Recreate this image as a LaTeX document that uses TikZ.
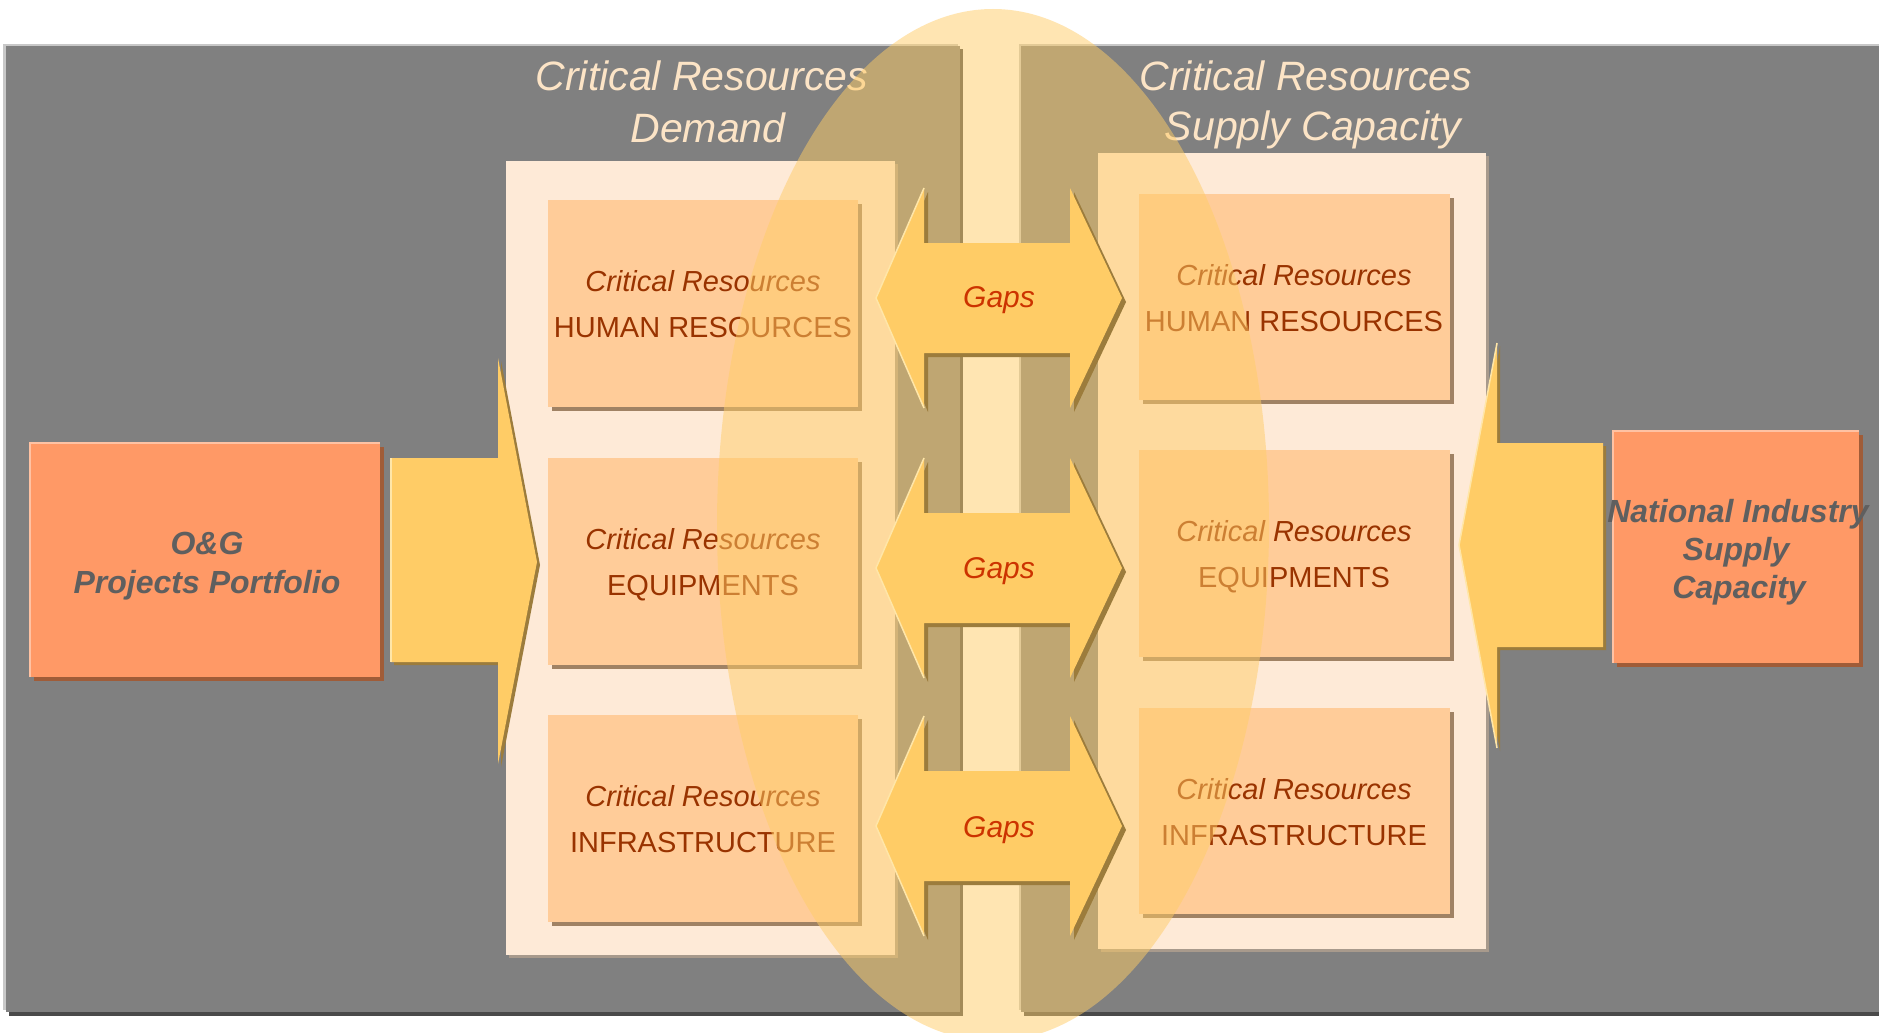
\documentclass[tikz,border=0pt]{standalone}
\usepackage{fontspec}
\setmainfont{Liberation Sans}
\definecolor{panelgray}{HTML}{808080}
\definecolor{panellight}{HTML}{C8C8C8}
\definecolor{paneldark}{HTML}{4A4A4A}
\definecolor{titlecol}{HTML}{FCE4C6}
\definecolor{contfill}{HTML}{FEEAD7}
\definecolor{contshadow}{HTML}{A89A8C}
\definecolor{boxfill}{HTML}{FFCC99}
\definecolor{boxshadow}{HTML}{A08264}
\definecolor{boxtext}{HTML}{993300}
\definecolor{arrowfill}{HTML}{FFCC66}
\definecolor{arrowshadow}{HTML}{9C7C3C}
\definecolor{arrowlight}{HTML}{FFE6A8}
\definecolor{orangefill}{HTML}{FF9966}
\definecolor{orangeshadow}{HTML}{A05C38}
\definecolor{darktext}{HTML}{5F5F5F}
\definecolor{gapstext}{HTML}{CC3300}
\definecolor{ellcol}{HTML}{FFCC66}
\newcommand{\GapPath}[2]{\fill[#2] (876,#1) -- (924,{#1-110}) -- (924,{#1-55}) -- (1070,{#1-55}) -- (1070,{#1-110}) -- (1122,#1) -- (1070,{#1+110}) -- (1070,{#1+55}) -- (924,{#1+55}) -- (924,{#1+110}) -- cycle;}
\newcommand{\GapLight}[1]{\draw[arrowlight, line width=1.5pt] (924,{#1+110}) -- (876,#1) -- (924,{#1-110});}
\begin{document}
\begin{tikzpicture}[x=1pt,y=-1pt,
  every node/.style={inner sep=0pt, outer sep=0pt},
  titletext/.style={anchor=base, text=titlecol, font=\fontsize{41}{48}\selectfont\itshape},
  crtext/.style={anchor=base, text=boxtext, font=\fontsize{29}{34}\selectfont\itshape},
  captext/.style={anchor=base, text=boxtext, font=\fontsize{29}{34}\selectfont},
  boldtext/.style={anchor=base, text=darktext, font=\fontsize{32}{38}\selectfont\bfseries\itshape},
  gapslabel/.style={anchor=base, text=gapstext, font=\fontsize{30}{36}\selectfont\itshape},
  container/.style={fill=contfill},
  innerbox/.style={fill=boxfill},
  orangebox/.style={fill=orangefill}]
\useasboundingbox (0,0) rectangle (1879,1033);
\clip (0,0) rectangle (1879,1033);
\fill[white] (0,0) rectangle (1879,1033);
% grey panels with bevel
\fill[panellight] (3,44) rectangle (958,1010);
\fill[panellight] (1019,44) rectangle (1879,1010);
\fill[paneldark] (9,49) rectangle (963,1016);
\fill[paneldark] (1024,49) rectangle (1883,1016);
\fill[panelgray] (6,46) rectangle (960,1012);
\fill[panelgray] (1021,46) rectangle (1879,1012);
% titles
\node[titletext] (t1a) at (702,91) {Critical Resources};
\node[titletext] (t1b) at (708,142) {Demand};
\node[titletext] (t2a) at (1306,91) {Critical Resources};
\node[titletext] (t2b) at (1313,140) {Supply Capacity};
% containers
\fill[contshadow] (509,164) rectangle (898,958);
\fill[container] (506,161) rectangle (895,955);
\fill[contshadow] (1101,156) rectangle (1489,952);
\fill[container] (1098,153) rectangle (1486,949);
% demand boxes
\fill[boxshadow] (552,204) rectangle (862,411);
\fill[innerbox] (548,200) rectangle (858,407);
\fill[boxshadow] (552,462) rectangle (862,669);
\fill[innerbox] (548,458) rectangle (858,665);
\fill[boxshadow] (552,719) rectangle (862,926);
\fill[innerbox] (548,715) rectangle (858,922);
\node[crtext] (d1a) at (703,291) {Critical Resources};
\node[captext] (d1b) at (703,337) {HUMAN RESOURCES};
\node[crtext] (d2a) at (703,549) {Critical Resources};
\node[captext] (d2b) at (703,595) {EQUIPMENTS};
\node[crtext] (d3a) at (703,806) {Critical Resources};
\node[captext] (d3b) at (703,852) {INFRASTRUCTURE};
% supply boxes
\fill[boxshadow] (1143,198) rectangle (1454,404);
\fill[innerbox] (1139,194) rectangle (1450,400);
\fill[boxshadow] (1143,454) rectangle (1454,661);
\fill[innerbox] (1139,450) rectangle (1450,657);
\fill[boxshadow] (1143,712) rectangle (1454,918);
\fill[innerbox] (1139,708) rectangle (1450,914);
\node[crtext] (s1a) at (1294,285) {Critical Resources};
\node[captext] (s1b) at (1294,331) {HUMAN RESOURCES};
\node[crtext] (s2a) at (1294,541) {Critical Resources};
\node[captext] (s2b) at (1294,587) {EQUIPMENTS};
\node[crtext] (s3a) at (1294,799) {Critical Resources};
\node[captext] (s3b) at (1294,845) {INFRASTRUCTURE};
% left big arrow
\fill[arrowshadow] (394,461) -- (501,461) -- (501,361) -- (540,565) -- (501,767) -- (501,665) -- (394,665) -- cycle;
\fill[arrowfill] (391,458) -- (498,458) -- (498,358) -- (537,562) -- (498,764) -- (498,662) -- (391,662) -- cycle;
\draw[arrowlight, line width=1.5pt] (391,662) -- (391,458);
% right big arrow
\fill[arrowshadow] (1606,446) -- (1500,446) -- (1500,346) -- (1462,548) -- (1500,751) -- (1500,650) -- (1606,650) -- cycle;
\fill[arrowfill] (1603,443) -- (1497,443) -- (1497,343) -- (1459,545) -- (1497,748) -- (1497,647) -- (1603,647) -- cycle;
\draw[arrowlight, line width=1.5pt] (1497,748) -- (1459,545) -- (1497,343);
% orange boxes
\fill[orangeshadow] (34,447) rectangle (384,681);
\fill[orangebox] (30,443) rectangle (380,677);
\draw[orangefill!60!white, line width=1.5pt] (30,677) -- (30,443) -- (380,443);
\fill[orangeshadow] (1617,435) rectangle (1863,667);
\fill[orangebox] (1613,431) rectangle (1859,663);
\draw[orangefill!60!white, line width=1.5pt] (1613,663) -- (1613,431) -- (1859,431);
\node[boldtext] (p1) at (207,554) {O\&G};
\node[boldtext] (p2) at (207,593) {Projects Portfolio};
\node[boldtext] (n1) at (1738,522) {National Industry};
\node[boldtext] (n2) at (1736,560) {Supply};
\node[boldtext] (n3) at (1739,598) {Capacity};
% ellipse
\fill[ellcol, opacity=0.5] (993,525) ellipse [x radius=276pt, y radius=516pt];
% gap arrows
\GapPath{298}{arrowshadow, shift={(4,4)}}
\GapPath{298}{arrowfill}
\GapLight{298}
\GapPath{568}{arrowshadow, shift={(4,4)}}
\GapPath{568}{arrowfill}
\GapLight{568}
\GapPath{826}{arrowshadow, shift={(4,4)}}
\GapPath{826}{arrowfill}
\GapLight{826}
\node[gapslabel] (g1) at (999,307) {Gaps};
\node[gapslabel] (g2) at (999,578) {Gaps};
\node[gapslabel] (g3) at (999,837) {Gaps};
\end{tikzpicture}
\end{document}
